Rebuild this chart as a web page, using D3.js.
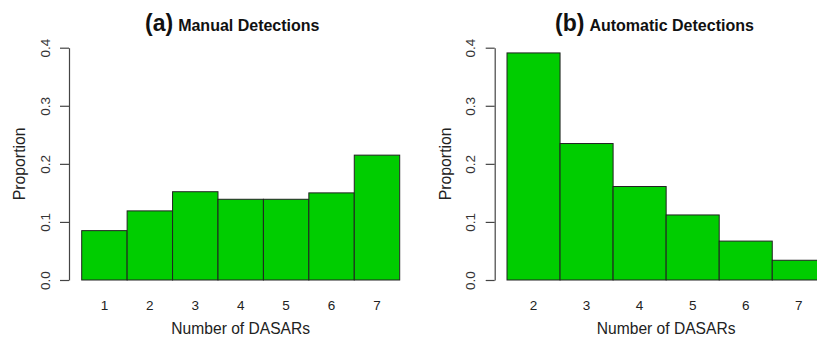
<!DOCTYPE html>
<html>
<head>
<meta charset="utf-8">
<script src="https://cdn.jsdelivr.net/npm/d3@7"></script>
<style>
  html, body { margin: 0; padding: 0; background: #fff; }
  svg { display: block; font-family: "Liberation Sans", Arial, Helvetica, sans-serif; }
</style>
</head>
<body>
<svg id="chart" width="817" height="337"></svg>
<script>
// Proportion of detections by number of DASARs that detected a call
const manualDasars = ["1", "2", "3", "4", "5", "6", "7"];
const manualProportion = [0.085, 0.119, 0.152, 0.139, 0.139, 0.150, 0.215];

const autoDasars = ["2", "3", "4", "5", "6", "7"];
const autoProportion = [0.391, 0.235, 0.161, 0.112, 0.067, 0.034];

const yTicks = [0, 0.1, 0.2, 0.3, 0.4];

const svg = d3.select("#chart");
const barFill = "#00CD00";
const axisColor = "#444";

const y = d3.scaleLinear().domain([0, 0.4]).range([280, 47.7]);

function panel(opts) {
  const { cats, vals, axisX, barLeft, barRight, tag, title, titleX } = opts;
  const g = svg.append("g");

  const x = d3.scaleBand().domain(cats).range([barLeft, barRight]).padding(0);

  // bars
  g.selectAll("rect.bar")
    .data(cats.map((c, i) => ({ c, v: vals[i] })))
    .join("rect")
    .attr("class", "bar")
    .attr("x", d => x(d.c))
    .attr("y", d => y(d.v))
    .attr("width", x.bandwidth())
    .attr("height", d => y(0) - y(d.v))
    .attr("fill", barFill)
    .attr("stroke", "#222")
    .attr("stroke-width", 1);

  // y axis
  const yAxis = d3.axisLeft(y)
    .tickValues(yTicks)
    .tickFormat(d3.format(".1f"))
    .tickSize(9)
    .tickSizeOuter(0)
    .tickPadding(0);
  const ga = g.append("g")
    .attr("transform", `translate(${axisX},0)`)
    .call(yAxis);
  ga.attr("font-size", 13.5).attr("font-family", "Liberation Sans, Arial, sans-serif");
  ga.select(".domain").attr("stroke", axisColor).attr("stroke-width", 1.2);
  ga.selectAll(".tick line").attr("stroke", axisColor).attr("stroke-width", 1.2);
  ga.selectAll(".tick text")
    .attr("fill", "#333")
    .attr("text-anchor", "middle")
    .attr("dy", null)
    .attr("x", null)
    .attr("transform", "translate(-24,0) rotate(-90)")
    .attr("dominant-baseline", "central");

  // x category labels (no axis line)
  g.selectAll("text.xlab")
    .data(cats)
    .join("text")
    .attr("class", "xlab")
    .attr("x", d => x(d) + x.bandwidth() / 2)
    .attr("y", 310)
    .attr("text-anchor", "middle")
    .attr("font-size", 13.5)
    .attr("fill", "#222")
    .text(d => d);

  // axis titles
  g.append("text")
    .attr("x", (barLeft + barRight) / 2)
    .attr("y", 334)
    .attr("text-anchor", "middle")
    .attr("font-size", 15.6)
    .attr("fill", "#222")
    .text("Number of DASARs");

  g.append("text")
    .attr("transform", `translate(${axisX - 44},${(y(0) + y(0.4)) / 2}) rotate(-90)`)
    .attr("text-anchor", "middle")
    .attr("font-size", 15.8)
    .attr("fill", "#222")
    .text("Proportion");

  // panel title
  const t = g.append("text")
    .attr("x", titleX)
    .attr("y", 31)
    .attr("text-anchor", "start")
    .attr("font-weight", "bold")
    .attr("fill", "#111");
  t.append("tspan").attr("font-size", 23).text(tag);
  t.append("tspan").attr("font-size", 16).attr("dx", 5).text(title);
}

panel({
  cats: manualDasars, vals: manualProportion,
  axisX: 69, barLeft: 81.7, barRight: 399.7,
  tag: "(a)", title: "Manual Detections", titleX: 145
});

panel({
  cats: autoDasars, vals: autoProportion,
  axisX: 494.7, barLeft: 507, barRight: 825.3,
  tag: "(b)", title: "Automatic Detections", titleX: 555
});
</script>
</body>
</html>
